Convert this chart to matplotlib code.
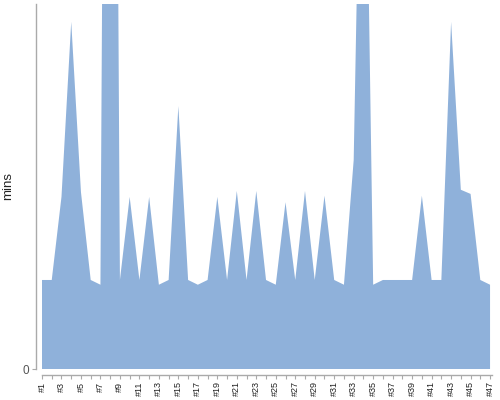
import matplotlib
matplotlib.use("Agg")
import matplotlib.pyplot as plt
import numpy as np

categories = ["#%d" % i for i in range(1, 48)]
mins = [15, 15, 29, 58.5, 29.8, 15, 14.2, 300, 15, 29,
        15, 29, 14.2, 15, 44.3, 15, 14.2, 15, 29, 15,
        30, 15, 30, 15, 14.2, 28.1, 15, 30, 15, 29.2,
        15, 14.2, 35.2, 123, 14.2, 15, 15, 15, 15, 29.2,
        15, 15, 58.5, 30.2, 29.5, 15, 14.2]
y_max = 61.5

plt.rcParams['font.family'] = ['Liberation Sans', 'DejaVu Sans']

fig = plt.figure(figsize=(5, 4), dpi=100)
ax = fig.add_axes([42/500, 31/400, 450/500, 365/400])

x = np.arange(len(categories))
ax.fill_between(x, 0, mins, color='#8FB1DA', linewidth=0)
ax.set_xlim(0, len(categories) - 1 + 0.2)
ax.set_ylim(0, y_max)

for s in ['top', 'right']:
    ax.spines[s].set_visible(False)
ax.spines['left'].set_position(('outward', 4))
ax.spines['bottom'].set_position(('outward', 4))
for s in ['left', 'bottom']:
    ax.spines[s].set_color('#aaaaaa')
    ax.spines[s].set_linewidth(1)

ax.set_yticks([0])
ax.set_yticklabels(['0'], fontsize=8.5, color='#555555')
ax.set_xticks(x)
ax.set_xticklabels([c if i % 2 == 0 else '' for i, c in enumerate(categories)],
                   rotation=90, fontsize=6.5, color='#222222')
ax.tick_params(axis='both', length=3, width=0.8, color='#aaaaaa', pad=2)
ax.set_ylabel('mins', fontsize=9.5, color='#222222')
ax.yaxis.set_label_coords(-0.062, 0.5)

fig.savefig('out.png', dpi=100)
